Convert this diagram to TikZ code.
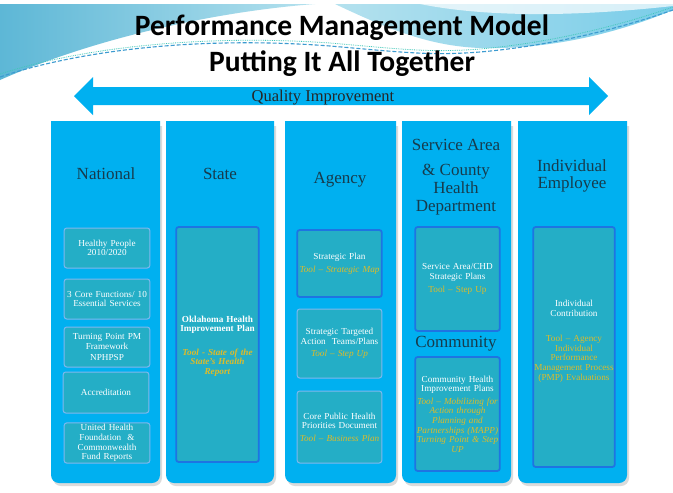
\documentclass[tikz,border=0pt]{standalone}
\usepackage{fontspec}
\setmainfont{Liberation Serif}
\newfontfamily\titlefont{Carlito}
\definecolor{colcyan}{HTML}{00B0F0}
\definecolor{boxteal}{HTML}{24AEC6}
\definecolor{darkedge}{HTML}{1E74E2}
\definecolor{lightedge}{HTML}{7FB8EE}
\definecolor{toolgold}{HTML}{DDBB2A}
\definecolor{headdark}{HTML}{173B4C}
\definecolor{swA}{HTML}{5DB7D6}
\definecolor{swB}{HTML}{B4E1EE}
\definecolor{swC}{HTML}{7ACDE9}
\definecolor{swD}{HTML}{3C9BD0}
\definecolor{swE}{HTML}{3FC7B8}
\tikzset{
  colshape/.style={fill=colcyan},
  lbox/.style={fill=boxteal, draw=lightedge, line width=1pt, rounded corners=2.5pt, text=white, align=center,
     font=\fontsize{9.2}{9.6}\selectfont, inner xsep=0.3pt, inner ysep=1.5pt},
  dbox/.style={lbox, draw=darkedge, line width=1.8pt},
  heading/.style={text=headdark, font=\fontsize{17}{18}\selectfont, align=center, inner sep=0pt},
  boxtext/.style={text=white, align=center, font=\fontsize{9.2}{9.6}\selectfont, inner sep=0pt},
  titletext/.style={font=\titlefont\bfseries\fontsize{29.5}{32}\selectfont, inner sep=0pt},
}
\newcommand{\tooltxt}[1]{\textcolor{toolgold}{#1}}
\begin{document}
\begin{tikzpicture}[x=1pt,y=-1pt]
\useasboundingbox (0,0) rectangle (673,493);
\fill[white] (0,0) rectangle (673,493);
% background swooshes
\shade[left color=swA, right color=swB] (0,4) -- (315,4) .. controls (210,12) and (90,40) .. (0,80) -- cycle;
\shade[left color=swB, right color=swC] (335,4) .. controls (390,30) and (430,46) .. (480,48) .. controls (560,50) and (630,28) .. (673,10) -- (673,4) -- cycle;
\fill[white, opacity=0.7] (420,4) .. controls (500,20) and (600,14) .. (673,6) -- (673,4) -- cycle;
\draw[swD, dashed, line width=1.1pt, dash pattern=on 4pt off 2pt] (0,77) .. controls (80,50) and (200,36) .. (330,46) .. controls (400,52) and (430,56) .. (480,52) .. controls (560,45) and (630,25) .. (673,10);
\draw[swE, densely dotted, line width=0.8pt] (0,74) .. controls (80,48) and (200,34) .. (330,43) .. controls (400,49) and (430,53) .. (480,49) .. controls (560,42) and (630,22) .. (673,7);
% title
\node[titletext, anchor=base] (t1) at (342,35) {Performance Management Model};
\node[titletext, anchor=base] (t2) at (342,71) {Putting It All Together};
% double arrow
\fill[colcyan] (74,96) -- (93,77) -- (93,87) -- (589,87) -- (589,77) -- (608,96) -- (589,115) -- (589,105) -- (93,105) -- (93,115) -- cycle;
\node[text=black!85, font=\fontsize{16.5}{18}\selectfont, anchor=base, inner sep=0pt] (qi) at (323,101) {Quality Improvement};
% columns
\foreach \a/\b in {51/160,166/274,285/396,402/511,518/627} {
  \fill[black!14] (\a+2,126) [rounded corners=8pt] -- (\a+2,486) -- (\b+2,486) [sharp corners] -- (\b+2,126) -- cycle;
  \fill[colshape] (\a,121) [rounded corners=8pt] -- (\a,483) -- (\b,483) [sharp corners] -- (\b,121) -- cycle;
}
% headings
\node[heading, anchor=base] (hnat) at (106,179) {National};
\node[heading, anchor=base] (hsta) at (220,179) {State};
\node[heading, anchor=base] (hage) at (340,183) {Agency};
\node[heading, anchor=base] (hsa1) at (456,150) {Service Area};
\node[heading, anchor=base] (hsa2) at (456,175) {\& County};
\node[heading, anchor=base] (hsa3) at (456,193) {Health};
\node[heading, anchor=base] (hsa4) at (456,211) {Department};
\node[heading, anchor=base] (hcom) at (456,347) {Community};
\node[heading, anchor=base] (hind1) at (572,171) {Individual};
\node[heading, anchor=base] (hind2) at (572,188) {Employee};
% National boxes
\node[lbox, text width=85pt, minimum height=40pt] (hp) at (107,248) {Healthy People\\2010/2020};
\node[lbox, text width=85pt, minimum height=40pt] (core) at (107,299) {3 Core Functions/ 10\\Essential Services};
\node[lbox, text width=85pt, minimum height=40pt] (tp) at (107,347) {Turning Point PM\\Framework\\[2pt]NPHPSP};
\node[lbox, text width=85pt, minimum height=41pt] (acc) at (106,392.5) {Accreditation};
\node[lbox, text width=85pt, minimum height=40pt] (uh) at (107,443) {United Health\\Foundation \ \&\\Commonwealth\\Fund Reports};
% State
\node[dbox, text width=82pt, minimum height=235pt] (state) at (217.5,344.5) {};
\node[boxtext, text width=82pt] (statetxt) at (217.5,346) {\textbf{Oklahoma Health}\\\textbf{Improvement Plan}\\[14pt]\tooltxt{\textbf{\textit{Tool - State of the}}}\\\tooltxt{\textbf{\textit{State's Health}}}\\\tooltxt{\textbf{\textit{Report}}}};
% Agency
\node[dbox, text width=84pt, minimum height=67pt] (sp) at (339.5,263.5) {Strategic Plan\\[3pt]\tooltxt{\textit{Tool – Strategic Map}}};
\node[lbox, text width=84pt, minimum height=69pt] (st) at (339.5,343.5) {Strategic Targeted\\Action \ Teams/Plans\\[3pt]\tooltxt{\textit{Tool – Step Up}}};
\node[lbox, text width=84pt, minimum height=72pt] (cp) at (339.5,427) {Core Public Health\\Priorities Document\\[3pt]\tooltxt{\textit{Tool – Business Plan}}};
% Service area
\node[dbox, text width=84pt, minimum height=104pt] (sa) at (457.5,279) {Service Area/CHD\\Strategic Plans\\[3pt]\tooltxt{Tool – Step Up}};
\node[dbox, text width=84pt, minimum height=114pt] (ch) at (457.5,414) {Community Health\\Improvement Plans\\[3pt]\tooltxt{\textit{Tool – Mobilizing for}}\\\tooltxt{\textit{Action through}}\\\tooltxt{\textit{Planning and}}\\\tooltxt{\textit{\mbox{Partnerships (MAPP)}}}\\\tooltxt{\textit{Turning Point \& Step}}\\\tooltxt{\textit{UP}}};
% Individual
\node[dbox, text width=81pt, minimum height=240pt] (ind) at (574,347) {};
\node[boxtext, text width=84pt] (indtxt) at (574,341) {Individual\\Contribution\\[16pt]\tooltxt{Tool – Agency}\\\tooltxt{Individual}\\\tooltxt{Performance}\\\tooltxt{Management Process}\\\tooltxt{(PMP) Evaluations}};
\end{tikzpicture}
\end{document}
